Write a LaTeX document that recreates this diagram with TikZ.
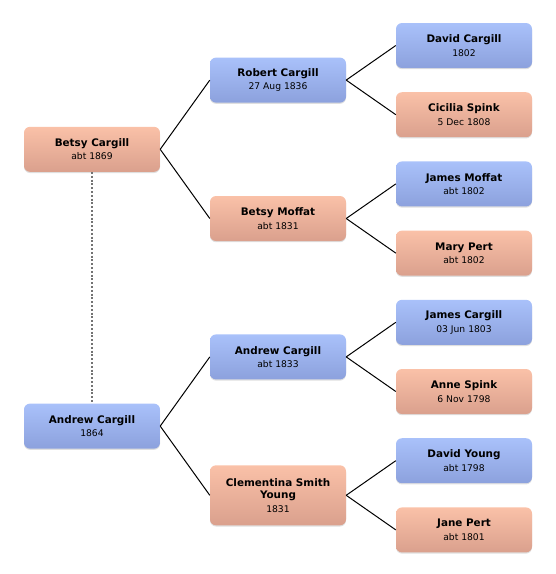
\documentclass[tikz,border=0pt]{standalone}
\usepackage{fontspec}
\setmainfont{DejaVu Sans}
\usepackage{tikz}
\usetikzlibrary{positioning, calc, shadows}

\definecolor{mtop}{HTML}{A9C1FA}
\definecolor{mbot}{HTML}{8CA1DD}
\definecolor{ftop}{HTML}{FAC1A8}
\definecolor{fbot}{HTML}{DAA08D}

\newcommand{\pname}[1]{{\bfseries\fontsize{10.4}{13.5}\selectfont #1}}

\begin{document}
\begin{tikzpicture}[x=1pt, y=1pt,
  person/.style={rectangle, rounded corners=6pt, minimum width=136pt, minimum height=45pt, align=center, inner sep=2pt, font=\fontsize{9.2}{13.5}\selectfont, drop shadow={opacity=0.25, shadow xshift=0pt, shadow yshift=-1.2pt}},
  male/.style={person, top color=mtop, bottom color=mbot},
  female/.style={person, top color=ftop, bottom color=fbot},
  link/.style={draw, black, line width=1pt},
  spouse/.style={draw, gray!90!black, dash pattern=on 2pt off 1.8pt, line width=1.8pt},
]
\useasboundingbox (0,0) rectangle (556,-574);

% ── GRANDPARENTS (right column) ──
\node[male] (dcargill) at (464,-45.5) {\pname{David Cargill}\\1802};
\node[female, below=23.8pt of dcargill] (cspink) {\pname{Cicilia Spink}\\5 Dec 1808};
\node[male, below=23.8pt of cspink] (jmoffat) {\pname{James Moffat}\\abt 1802};
\node[female, below=23.8pt of jmoffat] (mpert) {\pname{Mary Pert}\\abt 1802};
\node[male, below=23.8pt of mpert] (jcargill) {\pname{James Cargill}\\03 Jun 1803};
\node[female, below=23.8pt of jcargill] (aspink) {\pname{Anne Spink}\\6 Nov 1798};
\node[male, below=23.8pt of aspink] (dyoung) {\pname{David Young}\\abt 1798};
\node[female, below=23.8pt of dyoung] (jpert) {\pname{Jane Pert}\\abt 1801};

% ── PARENTS (middle column) ──
\node[male] (rcargill) at ($(dcargill)!0.5!(cspink) + (-186,0)$) {\pname{Robert Cargill}\\27 Aug 1836};
\node[female] (bmoffat) at ($(jmoffat)!0.5!(mpert) + (-186,0)$) {\pname{Betsy Moffat}\\abt 1831};
\node[male] (acargill) at ($(jcargill)!0.5!(aspink) + (-186,0)$) {\pname{Andrew Cargill}\\abt 1833};
\node[female, minimum height=60pt] (csyoung) at ($(dyoung)!0.5!(jpert) + (-186,0)$) {\pname{Clementina Smith}\\[-1pt]\pname{Young}\\1831};

% ── COUPLE (left column) ──
\node[female] (bcargill) at ($(rcargill)!0.5!(bmoffat) + (-186,0)$) {\pname{Betsy Cargill}\\abt 1869};
\node[male] (andrew) at ($(acargill)!0.5!(csyoung) + (-186,0)$) {\pname{Andrew Cargill}\\1864};

% ── LINKS ──
\draw[spouse] (bcargill.south) -- (andrew.north);

\draw[link] (bcargill.east) -- (rcargill.west);
\draw[link] (bcargill.east) -- (bmoffat.west);
\draw[link] (andrew.east) -- (acargill.west);
\draw[link] (andrew.east) -- (csyoung.west);

\draw[link] (rcargill.east) -- (dcargill.west);
\draw[link] (rcargill.east) -- (cspink.west);
\draw[link] (bmoffat.east) -- (jmoffat.west);
\draw[link] (bmoffat.east) -- (mpert.west);
\draw[link] (acargill.east) -- (jcargill.west);
\draw[link] (acargill.east) -- (aspink.west);
\draw[link] (csyoung.east) -- (dyoung.west);
\draw[link] (csyoung.east) -- (jpert.west);

\end{tikzpicture}
\end{document}
